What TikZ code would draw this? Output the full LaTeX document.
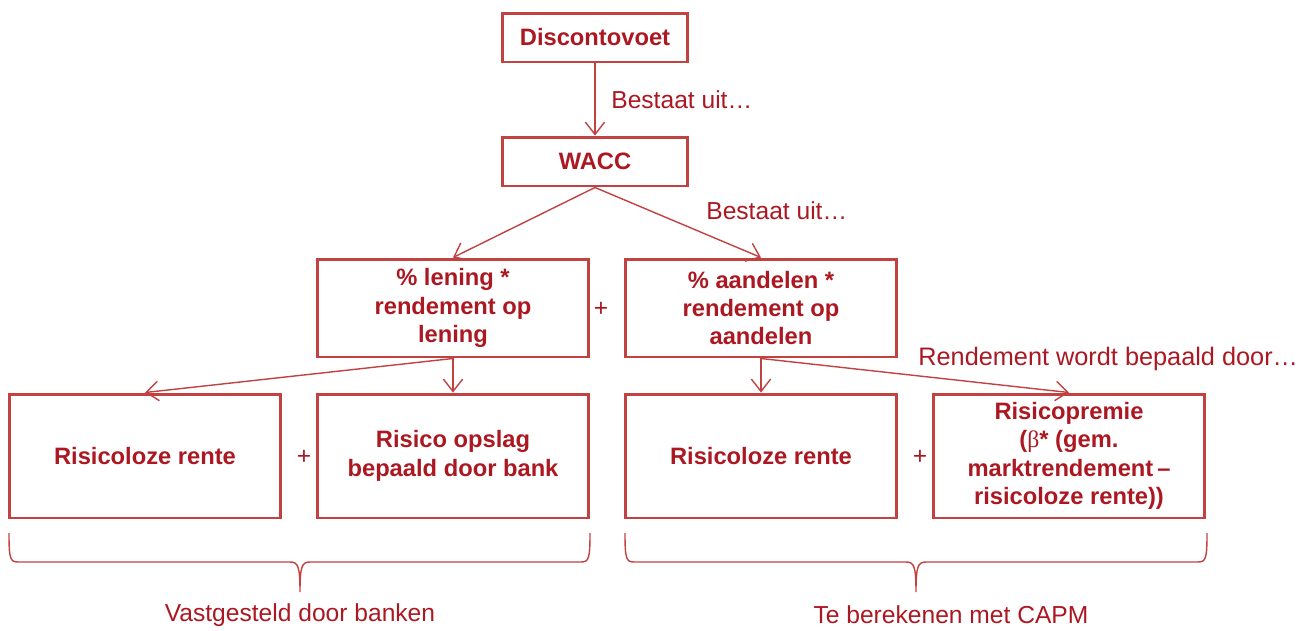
\documentclass[tikz,border=0pt]{standalone}
\usepackage{fontspec}
\setmainfont{Liberation Sans}
\newfontfamily\greekfont{Liberation Serif}
\usetikzlibrary{arrows.meta}
\definecolor{textred}{RGB}{172,24,34}
\definecolor{linered}{RGB}{194,66,66}
\begin{document}
\begin{tikzpicture}[x=0.02cm, y=-0.02cm,
	box/.style={draw=linered, line width=1.7pt, text=textred, align=center,
		font=\fontsize{13.5}{16.2}\selectfont\bfseries, inner sep=0pt},
	smallbox/.style={box, minimum width=3.72cm, minimum height=0.98cm},
	midbox/.style={box, minimum width=5.44cm, minimum height=1.96cm},
	lowbox/.style={box, minimum width=5.44cm, minimum height=2.48cm},
	link/.style={draw=linered, line width=0.8pt, -{Straight Barb[length=7pt,width=11pt]}},
	note/.style={text=textred, font=\fontsize{14}{16}\selectfont, inner sep=0pt},
	bracket/.style={draw=linered, line width=0.8pt}]

	\useasboundingbox (0,0) rectangle (1306,630);

	\node (dv) at (595,37.5) [smallbox] {Discontovoet};
	\node (wacc) at (595,161.5) [smallbox] {WACC};
	\node (len) at (453,308) [midbox] {\% lening *\\rendement op\\lening};
	\node (aand) at (761,308) [midbox] {\% aandelen *\\rendement op\\aandelen};
	\node (rvl) at (145,456) [lowbox] {Risicoloze rente};
	\node (ops) at (453,456) [lowbox] {Risico opslag\\bepaald door bank};
	\node (rvr) at (761,456) [lowbox] {Risicoloze rente};
	\node (rp) at (1069,456) [lowbox] {Risicopremie\\({\greekfont\mdseries β}* (gem.\\marktrendement\,--\\risicoloze rente))};

	\draw [link] (dv) -- (wacc);
	\draw [link] (wacc.south) -- (len.north);
	\draw [link] (wacc.south) -- (aand.north);
	\draw [link] (len.south) -- (rvl.north);
	\draw [link] (len.south) -- (ops.north);
	\draw [link] (aand.south) -- (rvr.north);
	\draw [link] (aand.south) -- (rp.north);

	\node (b1) at (611,100) [note, anchor=west] {Bestaat uit\dots};
	\node (b2) at (706,211) [note, anchor=west] {Bestaat uit\dots};
	\node (rb) at (918,359) [note, anchor=west, font=\fontsize{14.4}{16}\selectfont] {Rendement wordt bepaald door\dots};

	\node (p1) at (601,309) [note] {+};
	\node (p2) at (304,457) [note] {+};
	\node (p3) at (920,457) [note] {+};

	% accolades onder de blokken
	\foreach \a/\m/\b in {9/300/590, 625/916/1207} {
		\draw [bracket] (\a,533) .. controls (\a,558) and (\a+1,562) .. (\a+9,562)
			-- (\m-10,562) .. controls (\m-2,562) and (\m,566) .. (\m,592)
			.. controls (\m,566) and (\m+2,562) .. (\m+10,562)
			-- (\b-9,562) .. controls (\b-1,562) and (\b,558) .. (\b,533);
	}

	\node (vb) at (300,615) [note] {Vastgesteld door banken};
	\node (capm) at (951,615) [note] {Te berekenen met CAPM};
\end{tikzpicture}
\end{document}
